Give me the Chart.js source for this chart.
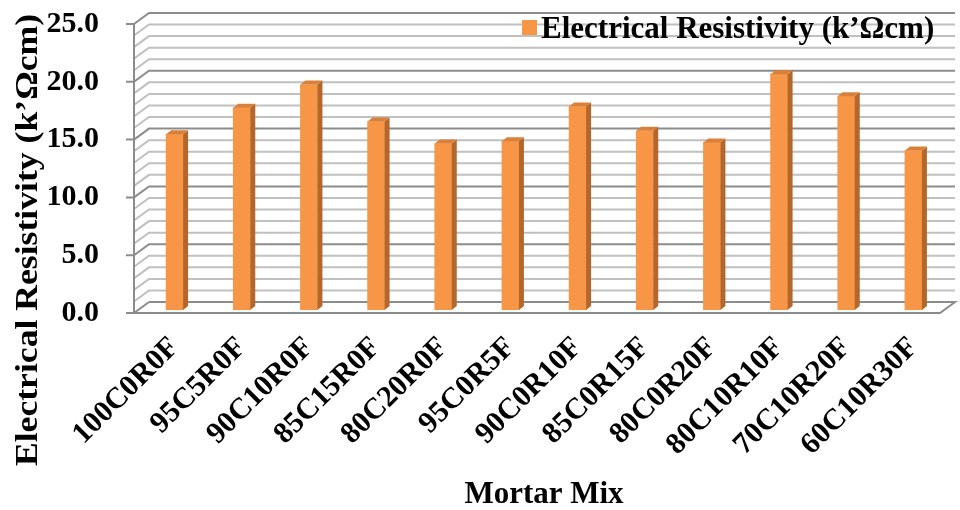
<!DOCTYPE html>
<html>
<head>
<meta charset="utf-8">
<script src="https://cdn.jsdelivr.net/npm/chart.js@4/dist/chart.umd.min.js"></script>
<style>
  html, body { margin: 0; padding: 0; background: #fff; }
  #wrap { width: 960px; height: 510px; }
</style>
</head>
<body>
<div id="wrap"><canvas id="chart"></canvas></div>
<script>
// Electrical resistivity per mortar mix, pseudo-3D column chart

const MIXES = [
  '100C0R0F', '95C5R0F', '90C10R0F', '85C15R0F', '80C20R0F', '95C0R5F',
  '90C0R10F', '85C0R15F', '80C0R20F', '80C10R10F', '70C10R20F', '60C10R30F',
];
const RESISTIVITY = [15.2, 17.5, 19.5, 16.3, 14.4, 14.6, 17.6, 15.5, 14.5, 20.4, 18.5, 13.8];

const SERIES_LABEL = 'Electrical Resistivity (k\u2019\u03A9cm)';
const Y_TITLE      = 'Electrical Resistivity (k\u2019\u03A9cm)';
const X_TITLE      = 'Mortar Mix';
const Y_MAX        = 25;
const Y_STEP       = 5;

const FONT   = '"Liberation Serif", "Times New Roman", serif';
const ORANGE = '#f79646';
const SIDE   = '#b5662a';
const TOP    = '#d9803b';
const MINOR  = '#c0c0c0';
const MAJOR  = '#8c8c8c';

// depth offsets of the front / back planes relative to the bar plane
const FRONT = { dx: -7, dy: 3 };
const BACK  = { dx: 8,  dy: -8 };

// walls, floor and axis line of the 3D frame
const frame3d = {
  id: 'frame3d',
  beforeDatasetsDraw(chart) {
    const { ctx, chartArea: a, scales: { y } } = chart;
    ctx.save();
    ctx.lineWidth = 2;

    for (let v = 0; v <= Y_MAX; v++) {
      const py = y.getPixelForValue(v);
      ctx.strokeStyle = v % Y_STEP === 0 ? MAJOR : MINOR;
      ctx.beginPath();
      ctx.moveTo(a.left + FRONT.dx, py + FRONT.dy);
      ctx.lineTo(a.left + BACK.dx, py + BACK.dy);
      if (v > 0) ctx.lineTo(a.right + BACK.dx, py + BACK.dy);
      ctx.stroke();
    }

    // floor
    const y0 = y.getPixelForValue(0);
    ctx.strokeStyle = MAJOR;
    ctx.beginPath();
    ctx.moveTo(a.left + FRONT.dx, y0 + FRONT.dy);
    ctx.lineTo(a.right + FRONT.dx, y0 + FRONT.dy);
    ctx.lineTo(a.right + BACK.dx, y0 + BACK.dy);
    ctx.lineTo(a.left + BACK.dx, y0 + BACK.dy);
    ctx.stroke();

    // front value axis with major tick marks
    const yTop = y.getPixelForValue(Y_MAX);
    const fx = a.left + FRONT.dx;
    ctx.beginPath();
    ctx.moveTo(fx, yTop + FRONT.dy);
    ctx.lineTo(fx, y0 + FRONT.dy);
    for (let v = 0; v <= Y_MAX; v += Y_STEP) {
      const py = y.getPixelForValue(v) + FRONT.dy;
      ctx.moveTo(fx - 8, py);
      ctx.lineTo(fx, py);
    }
    ctx.stroke();
    ctx.restore();
  },

  // side and top faces of every column
  afterDatasetsDraw(chart) {
    const { ctx } = chart;
    const d = 5, h = 4;
    ctx.save();
    chart.getDatasetMeta(0).data.forEach(bar => {
      const { x, y, base, width } = bar.getProps(['x', 'y', 'base', 'width'], true);
      const l = x - width / 2, r = x + width / 2;
      ctx.fillStyle = SIDE;
      ctx.beginPath();
      ctx.moveTo(r, y);
      ctx.lineTo(r + d, y - h);
      ctx.lineTo(r + d, base - h);
      ctx.lineTo(r, base);
      ctx.closePath();
      ctx.fill();
      ctx.fillStyle = TOP;
      ctx.beginPath();
      ctx.moveTo(l, y);
      ctx.lineTo(l + d, y - h);
      ctx.lineTo(r + d, y - h);
      ctx.lineTo(r, y);
      ctx.closePath();
      ctx.fill();
    });
    ctx.restore();
  },

  // legend and rotated value-axis title
  afterDraw(chart) {
    const { ctx } = chart;
    ctx.save();
    ctx.fillStyle = ORANGE;
    ctx.fillRect(522, 20, 15, 15);
    ctx.fillStyle = '#000';
    ctx.font = `bold 31px ${FONT}`;
    ctx.textBaseline = 'middle';
    ctx.textAlign = 'left';
    ctx.fillText(chart.data.datasets[0].label, 541, 30);

    // title runs a little longer than the font alone gives
    ctx.translate(29, 240);
    ctx.rotate(-Math.PI / 2);
    ctx.scale(1.15, 1);
    ctx.textAlign = 'center';
    ctx.fillText(Y_TITLE, 0, 0);
    ctx.restore();
  },
};

new Chart(document.getElementById('chart'), {
  type: 'bar',
  data: {
    labels: MIXES,
    datasets: [{
      label:           SERIES_LABEL,
      data:            RESISTIVITY,
      backgroundColor: ORANGE,
      borderWidth:     0,
      barThickness:    17,
    }],
  },
  options: {
    responsive:          true,
    maintainAspectRatio: false,
    animation:           false,
    layout: { padding: { top: 21, right: 13, bottom: 0, left: 0 } },
    plugins: {
      legend:  { display: false },
      tooltip: { enabled: false },
    },
    scales: {
      x: {
        grid:   { display: false },
        border: { display: false },
        ticks: {
          autoSkip:    false,
          maxRotation: 45,
          minRotation: 45,
          padding:     12,
          color:       '#000',
          font:        { family: FONT, size: 30, weight: 'bold' },
        },
        title: {
          display: true,
          text:    X_TITLE,
          color:   '#000',
          padding: 0,
          font:    { family: FONT, size: 31, weight: 'bold', lineHeight: 1 },
        },
        afterFit: s => { s.height = 200; },
      },
      y: {
        min: 0,
        max: Y_MAX,
        grid:   { display: false },
        border: { display: false },
        ticks: {
          stepSize:    Y_STEP,
          padding:     34,
          labelOffset: 3,
          color:       '#000',
          font:        { family: FONT, size: 30, weight: 'bold' },
          callback:    v => v.toFixed(1),
        },
        afterFit: s => {
          s.width = 141;
          s.paddingTop = 0;
          s.paddingBottom = 0;
        },
      },
    },
  },
  plugins: [frame3d],
});
</script>
</body>
</html>
